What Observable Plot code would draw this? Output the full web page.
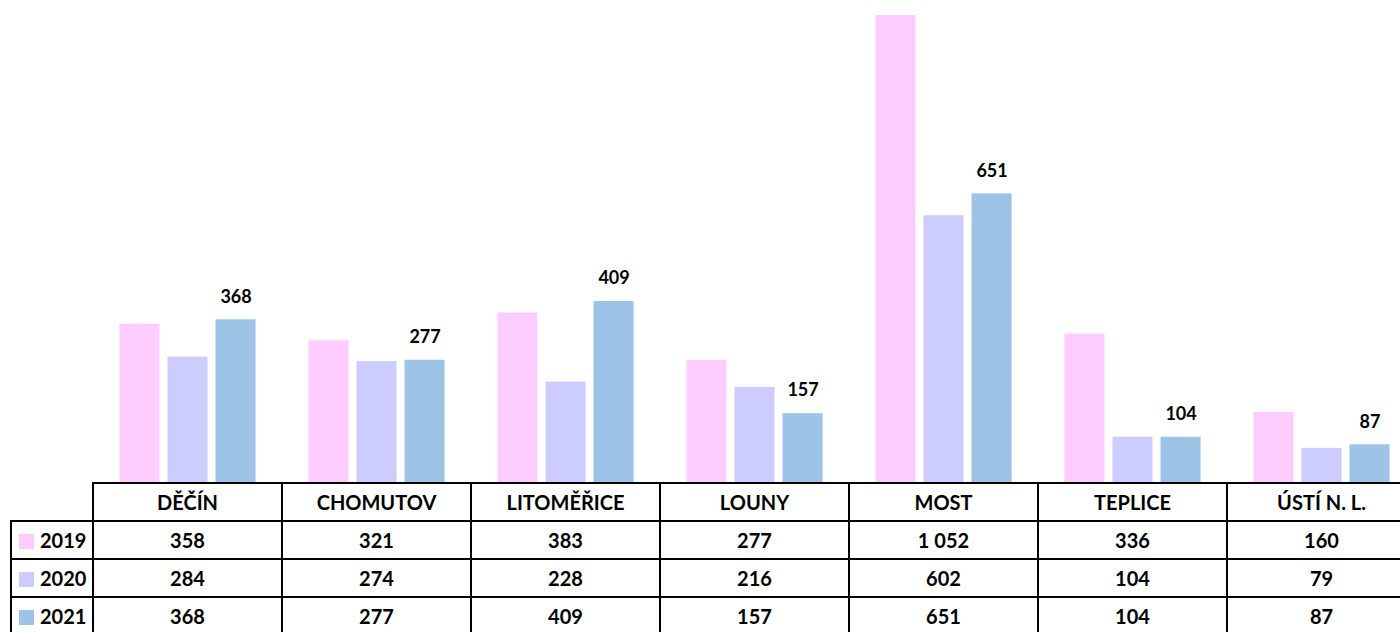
<!DOCTYPE html>
<html>
<head>
<meta charset="utf-8">
<script src="https://cdn.jsdelivr.net/npm/d3@7"></script>
<script src="https://cdn.jsdelivr.net/npm/@observablehq/plot@0.6"></script>
<style>
  html, body { margin: 0; padding: 0; background: #fff; overflow: hidden; }
  #wrap { position: relative; width: 1400px; height: 632px; overflow: hidden; font-family: Lato, "Open Sans", sans-serif; }
  #chart { position: absolute; left: 0; top: 0; }
  #tbl { position: absolute; left: 10px; top: 482px; border-collapse: collapse; table-layout: fixed; width: 1405px;
         font-family: Lato, sans-serif; font-weight: bold; font-size: 20px; color: #000; }
  #tbl td { border: 2px solid #000; text-align: center; padding: 0; height: 36px; white-space: nowrap; overflow: hidden; }
  #tbl td.corner { border-top: none; border-left: none; }
  #tbl td.leg { text-align: left; padding-left: 7px; }
  #tbl .sw { display: inline-block; width: 15px; height: 15px; margin-right: 6px; vertical-align: -1px; }
</style>
</head>
<body>
<div id="wrap"><div id="chart"></div><table id="tbl"></table></div>
<script>
const districts = ["DĚČÍN", "CHOMUTOV", "LITOMĚŘICE", "LOUNY", "MOST", "TEPLICE", "ÚSTÍ N. L."];
const years = ["2019", "2020", "2021"];
const values2019 = [358, 321, 383, 277, 1052, 336, 160];
const values2020 = [284, 274, 228, 216, 602, 104, 79];
const values2021 = [368, 277, 409, 157, 651, 104, 87];
const colors = ["#FFCCFF", "#CCCCFF", "#9DC3E6"];

const series = [values2019, values2020, values2021];
const data = districts.flatMap((d, i) => years.map((y, j) => ({district: d, year: y, value: series[j][i]})));

const loc = d3.formatLocale({decimal: ",", thousands: "\u00a0", grouping: [3], currency: ["", ""]});
const fmt = loc.format(",d");

const chart = Plot.plot({
  width: 1400,
  height: 483,
  marginLeft: 93,
  marginRight: -16,
  marginTop: 15,
  marginBottom: 0,
  style: {fontFamily: "Lato, sans-serif", background: "transparent", overflow: "visible"},
  fx: {domain: districts, padding: 0, axis: null},
  x: {domain: years, paddingInner: 0.167, paddingOuter: 0.55, round: false, axis: null},
  y: {domain: [0, 1052], axis: null},
  color: {domain: years, range: colors},
  marks: [
    Plot.barY(data, {fx: "district", x: "year", y: "value", fill: "year"}),
    Plot.text(data.filter(d => d.year === "2021"), {
      fx: "district", x: "year", y: "value", text: d => fmt(d.value),
      dy: -23, fontWeight: "bold", fontSize: 18, fill: "#000"
    })
  ]
});
document.getElementById("chart").appendChild(chart);

// data table below the chart (also acts as the legend)
const tbl = document.getElementById("tbl");
const cg = document.createElement("colgroup");
[82, ...districts.map(() => 189)].forEach(w => {
  const c = document.createElement("col"); c.style.width = w + "px"; cg.appendChild(c);
});
tbl.appendChild(cg);
const head = document.createElement("tr");
const corner = document.createElement("td"); corner.className = "corner"; head.appendChild(corner);
districts.forEach(d => { const td = document.createElement("td"); td.textContent = d; head.appendChild(td); });
tbl.appendChild(head);
years.forEach((y, j) => {
  const tr = document.createElement("tr");
  const lg = document.createElement("td"); lg.className = "leg";
  const sw = document.createElement("span"); sw.className = "sw"; sw.style.background = colors[j];
  lg.appendChild(sw); lg.appendChild(document.createTextNode(y));
  tr.appendChild(lg);
  series[j].forEach(v => { const td = document.createElement("td"); td.textContent = fmt(v); tr.appendChild(td); });
  tbl.appendChild(tr);
});
</script>
</body>
</html>
